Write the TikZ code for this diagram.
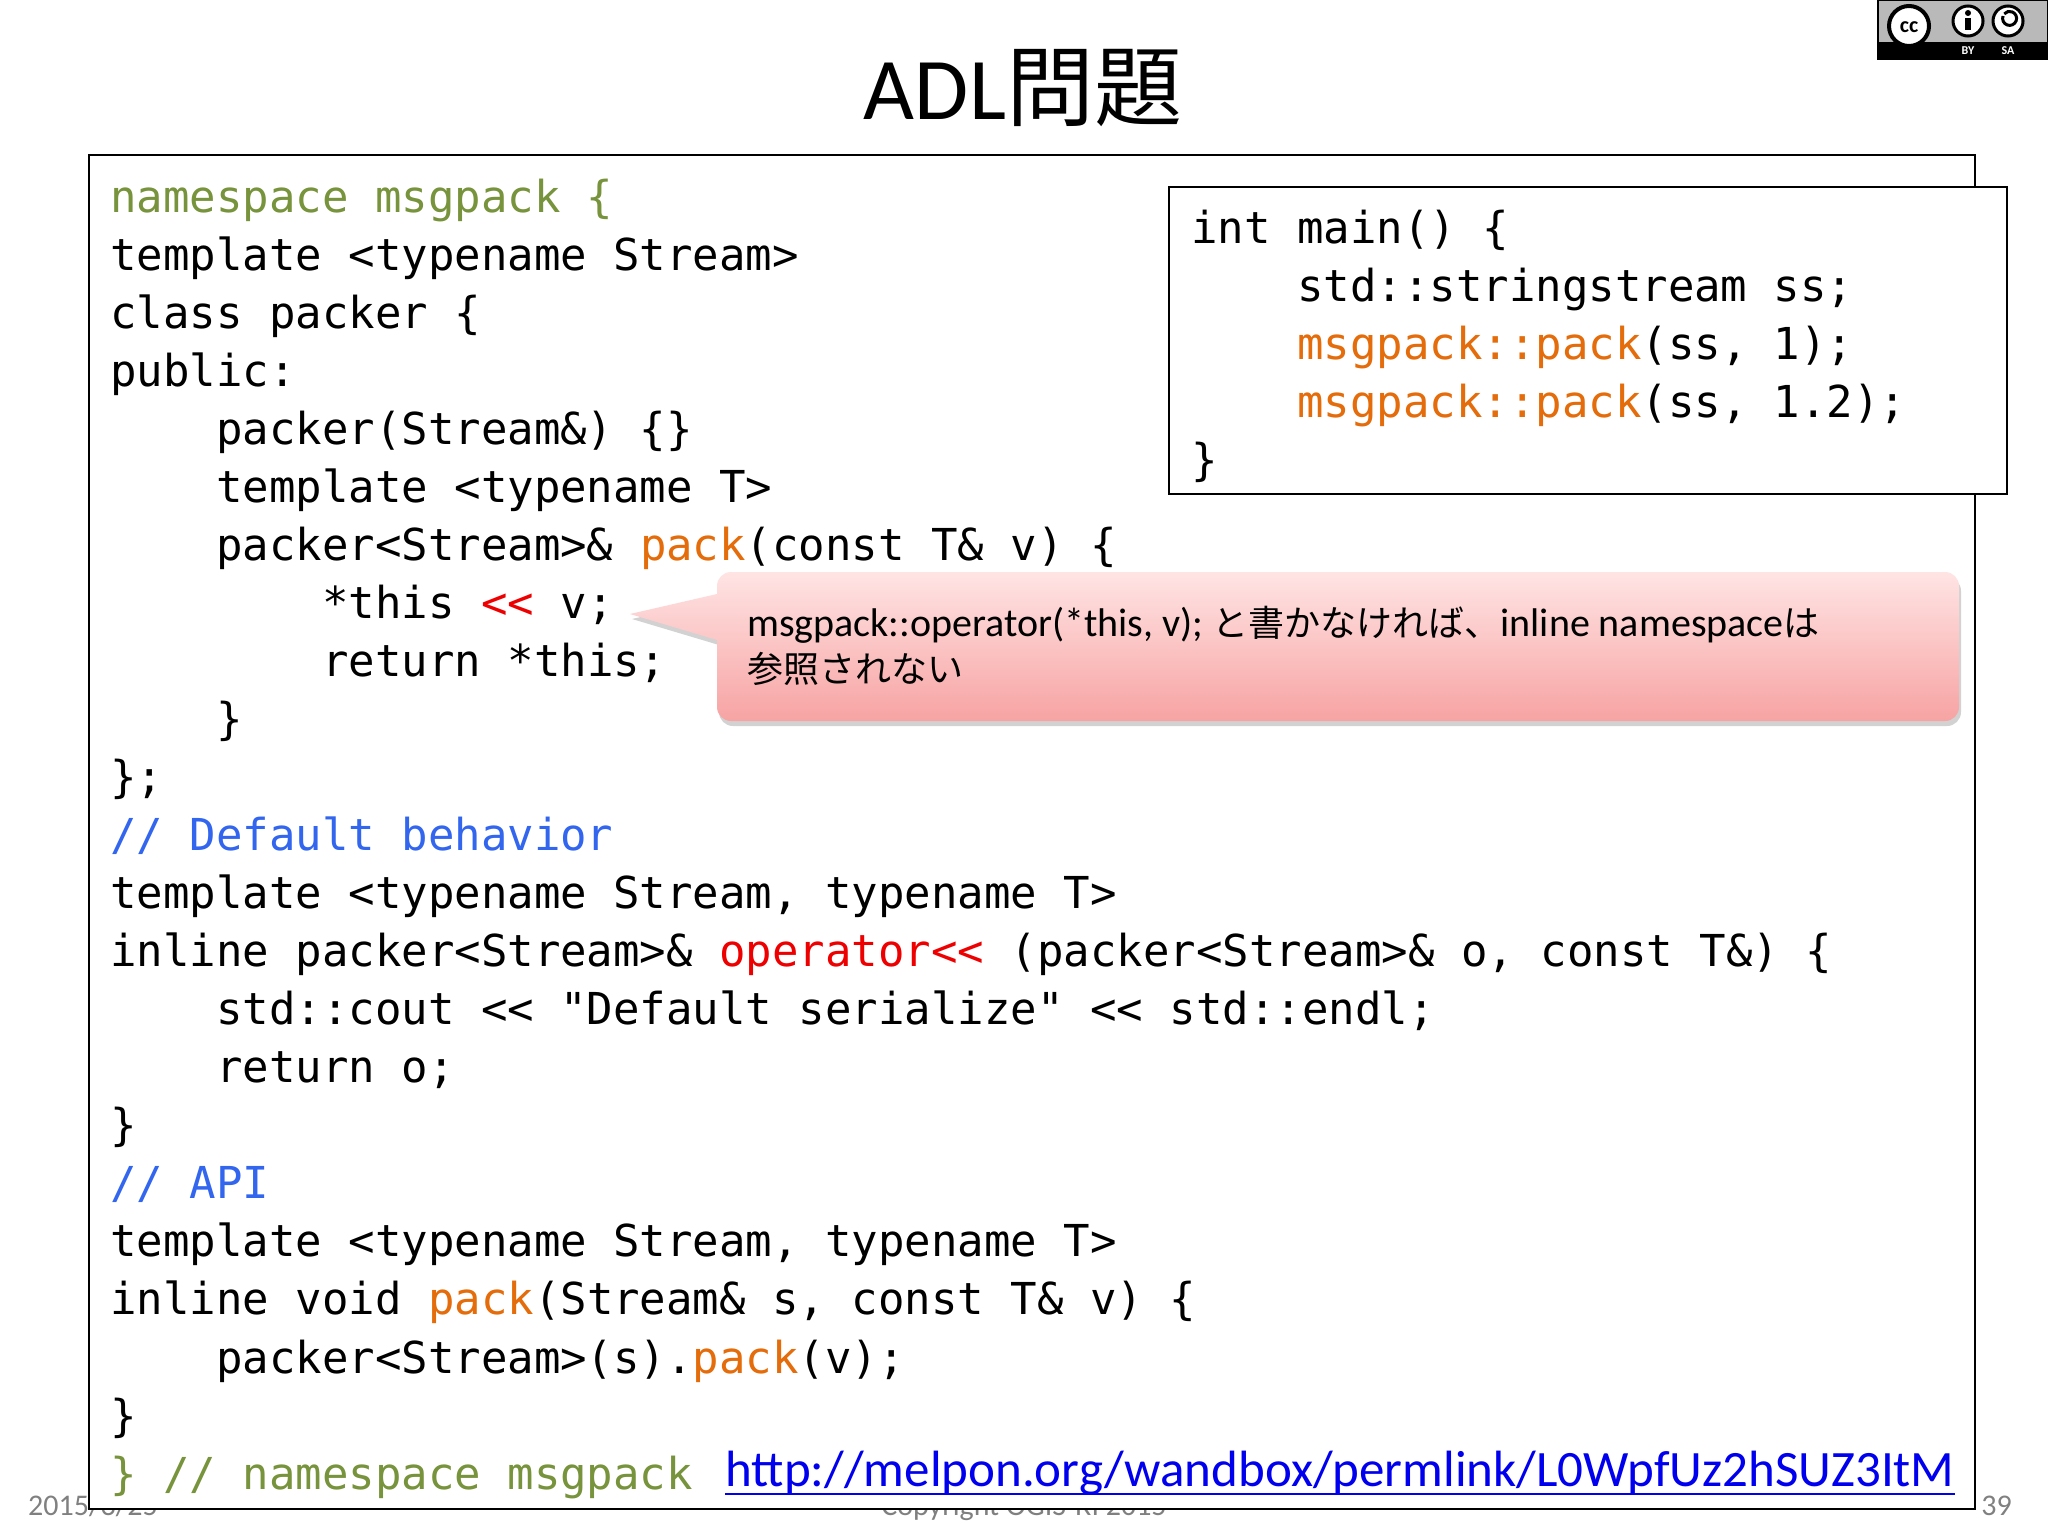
\documentclass[tikz,border=0pt]{standalone}
\usepackage{fontspec}
\usetikzlibrary{shadows,calc}
\setmainfont{Carlito}
\newfontfamily\jp{Noto Sans CJK JP}
\newfontfamily\cd{DejaVu Sans Mono}
\definecolor{cgreen}{HTML}{77933C}
\definecolor{cblue}{HTML}{3366EE}
\definecolor{corange}{HTML}{E46C0A}
\definecolor{cred}{HTML}{EE0000}
\definecolor{clink}{HTML}{0000EE}
\definecolor{pinktop}{HTML}{FFE4E4}
\definecolor{pinkbot}{HTML}{F7A3A3}
\tikzset{codeln/.style={anchor=base west,inner sep=0pt,font=\cd\fontsize{44}{50}\selectfont}}
\newcommand{\G}[1]{\textcolor{cgreen}{#1}}
\newcommand{\B}[1]{\textcolor{cblue}{#1}}
\newcommand{\Or}[1]{\textcolor{corange}{#1}}
\newcommand{\R}[1]{\textcolor{cred}{#1}}
\begin{document}
\begin{tikzpicture}[x=1pt,y=-1pt]
\useasboundingbox (0,0) rectangle (2048,1536);
% footer (mostly hidden)
\node[anchor=base west,inner sep=0,text=gray,font=\fontsize{30}{36}\selectfont] (date) at (28,1515) {2015/3/25};
\node[anchor=base,inner sep=0,text=gray,font=\fontsize{30}{36}\selectfont] (copy) at (1024,1515) {Copyright OGIS-RI 2015};
\node[anchor=base east,inner sep=0,text=gray,font=\fontsize{30}{36}\selectfont] (pg) at (2012,1515) {39};
% title
\node[anchor=base,inner sep=0,font=\fontsize{88}{100}\selectfont] (title) at (1023,120) {ADL\jp 問題};
% cc logo
\fill[gray!55] (1878,0) rectangle (2048,59);
\fill[black] (1878,42) rectangle (2048,59);
\draw[black,line width=1.5] (1878,0) rectangle (2048,59);
\filldraw[fill=white,draw=black,line width=4] (1909,26) circle (20);
\node[font=\bfseries\fontsize{22}{22}\selectfont,inner sep=0] (cc) at (1909,27) {cc};
\filldraw[fill=white,draw=black,line width=3] (1968,21) circle (15);
\filldraw[fill=white,draw=black,line width=3] (2008,21) circle (15);
\fill (1968,13) circle (3); \fill (1965,18) rectangle (1971,30);
\draw[line width=3] (2003,16) arc (200:-140:7);
\node[text=white,font=\bfseries\fontsize{12}{12}\selectfont,inner sep=0] (by) at (1968,51) {BY};
\node[text=white,font=\bfseries\fontsize{12}{12}\selectfont,inner sep=0] (sa) at (2008,51) {SA};
% main box
\filldraw[fill=white,draw=black,line width=2] (89,155) rectangle (1975,1509);
\foreach \t [count=\i from 0] in {
 {\G{namespace msgpack \{}},
 {template <typename Stream>},
 {class packer \{},
 {public:},
 {\ \ \ \ packer(Stream\&) \{\}},
 {\ \ \ \ template <typename T>},
 {\ \ \ \ packer<Stream>\& \Or{pack}(const T\& v) \{},
 {\ \ \ \ \ \ \ \ *this \R{<<} v;},
 {\ \ \ \ \ \ \ \ return *this;},
 {\ \ \ \ \}},
 {\};},
 {\B{// Default behavior}},
 {template <typename Stream, typename T>},
 {inline packer<Stream>\& \R{operator<<} (packer<Stream>\& o, const T\&) \{},
 {\ \ \ \ std::cout << "Default serialize" << std::endl;},
 {\ \ \ \ return o;},
 {\}},
 {\B{// API}},
 {template <typename Stream, typename T>},
 {inline void \Or{pack}(Stream\& s, const T\& v) \{},
 {\ \ \ \ packer<Stream>(s).\Or{pack}(v);},
 {\}},
 {\G{\} // namespace msgpack}}}
 {\node[codeln] (l\i) at (110,212+58.05*\i) {\t};}
% main() box
\filldraw[fill=white,draw=black,line width=2] (1169,187) rectangle (2007,494);
\foreach \t [count=\i from 0] in {
 {int main() \{},
 {\ \ \ \ std::stringstream ss;},
 {\ \ \ \ \Or{msgpack::pack}(ss, 1);},
 {\ \ \ \ \Or{msgpack::pack}(ss, 1.2);},
 {\}}}
 {\node[codeln] (m\i) at (1191,243+58.05*\i) {\t};}
% callout
\path[top color=pinktop,bottom color=pinkbot,drop shadow={shadow xshift=2pt,shadow yshift=-5pt,opacity=0.35}]
  (717,594) -- (630,614) -- (717,640) [rounded corners=14] -- (717,721) -- (1959,721) -- (1959,572) -- (717,572) [sharp corners] -- cycle;
\node[anchor=base west,inner sep=0,font=\fontsize{40}{46}\selectfont] (c1) at (747,636) {msgpack::operator(*this, v); {\jp\fontsize{36}{40}\selectfont と書かなければ、}inline namespace{\jp\fontsize{36}{40}\selectfont は}};
\node[anchor=base west,inner sep=0,font=\jp\fontsize{36}{40}\selectfont] (c2) at (747,682) {参照されない};
% link
\node[anchor=base east,inner sep=0,text=clink,font=\fontsize{51}{60}\selectfont] (url) at (1955,1486) {http://melpon.org/wandbox/permlink/L0WpfUz2hSUZ3ItM};
\draw[clink,line width=2.5] ($(url.base west)+(0,8)$) -- ($(url.base east)+(0,8)$);
\end{tikzpicture}
\end{document}
